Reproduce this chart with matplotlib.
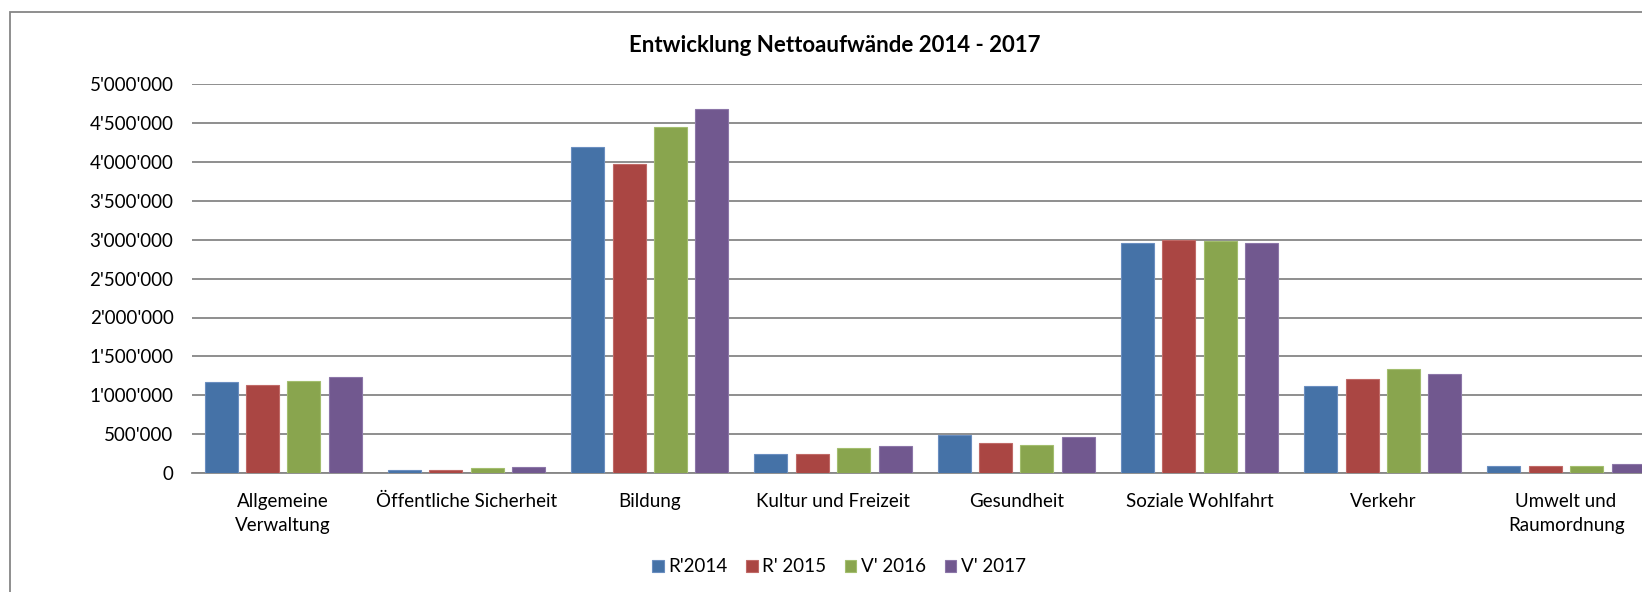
import matplotlib
matplotlib.use("Agg")
import matplotlib.pyplot as plt
import numpy as np
from matplotlib.patches import Rectangle
from matplotlib.ticker import FuncFormatter

categories = ["Allgemeine\nVerwaltung", "Öffentliche Sicherheit", "Bildung", "Kultur und Freizeit",
              "Gesundheit", "Soziale Wohlfahrt", "Verkehr", "Umwelt und\nRaumordnung"]
series_names = ["R'2014", "R' 2015", "V' 2016", "V' 2017"]
r2014 = [1178000, 39000, 4187000, 249000, 497000, 2961000, 1118000, 90000]
r2015 = [1135000, 44000, 3965000, 253000, 395000, 3000000, 1213000, 90000]
v2016 = [1190000, 73000, 4450000, 330000, 369000, 2987000, 1337000, 99000]
v2017 = [1232000, 86000, 4680000, 356000, 472000, 2952000, 1281000, 125000]
colors = ["#4572A7", "#AA4643", "#89A54E", "#71588F"]
edges = ["#6A8EC0", "#C06A67", "#A3BE6E", "#8C76A8"]

plt.rcParams['font.family'] = ['Lato', 'DejaVu Sans']

W, H = 1642, 592
fig = plt.figure(figsize=(W / 100, H / 100), dpi=100)
left_px, right_px, top_px, bot_px = 191.6, 1657.7, 83.8, 473.3
ax = fig.add_axes([left_px / W, 1 - bot_px / H, (right_px - left_px) / W, (bot_px - top_px) / H])

x = np.arange(len(categories))
bw = 0.18
step = 0.226
for i, (vals, c, e, n) in enumerate(zip([r2014, r2015, v2016, v2017], colors, edges, series_names)):
    ax.bar(x + (i - 1.5) * step, vals, width=bw, color=c, edgecolor=e, linewidth=0.8, label=n, zorder=3)

ax.set_xlim(-0.5, len(categories) - 0.5)
ax.set_ylim(0, 5000000)
ax.set_yticks(np.arange(0, 5000001, 500000))
ax.yaxis.set_major_formatter(FuncFormatter(lambda v, p: f"{int(v):,}".replace(",", "'")))
ax.grid(axis='y', color='#868686', linewidth=1.3, zorder=0)
for s in ['top', 'right', 'left']:
    ax.spines[s].set_visible(False)
ax.spines['bottom'].set_color('#868686')
ax.spines['bottom'].set_linewidth(1.3)
ax.set_xticks(x)
ax.set_xticklabels(categories, fontsize=13.5, linespacing=1.55)
ax.tick_params(axis='x', length=0, pad=14)
ax.tick_params(axis='y', length=0, pad=13, labelsize=13.5)

fig.text(797 * 1642 / 1568 / W, 1 - 46 / H, "Entwicklung Nettoaufwände 2014 - 2017",
         ha='center', va='center', fontsize=16, fontweight='bold')

leg = fig.legend(loc='center', bbox_to_anchor=(839 / W, 1 - 567 / H), ncol=4, frameon=False,
                 fontsize=13.5, handlelength=0.6, handleheight=0.6, handletextpad=0.25, columnspacing=1.0)

fig.patches.append(Rectangle((10 / W, -0.1), 1.2, 1 - 12 / H + 0.1, transform=fig.transFigure,
                             fill=False, edgecolor='#868686', linewidth=1.3))

fig.savefig("out.png", dpi=100)
